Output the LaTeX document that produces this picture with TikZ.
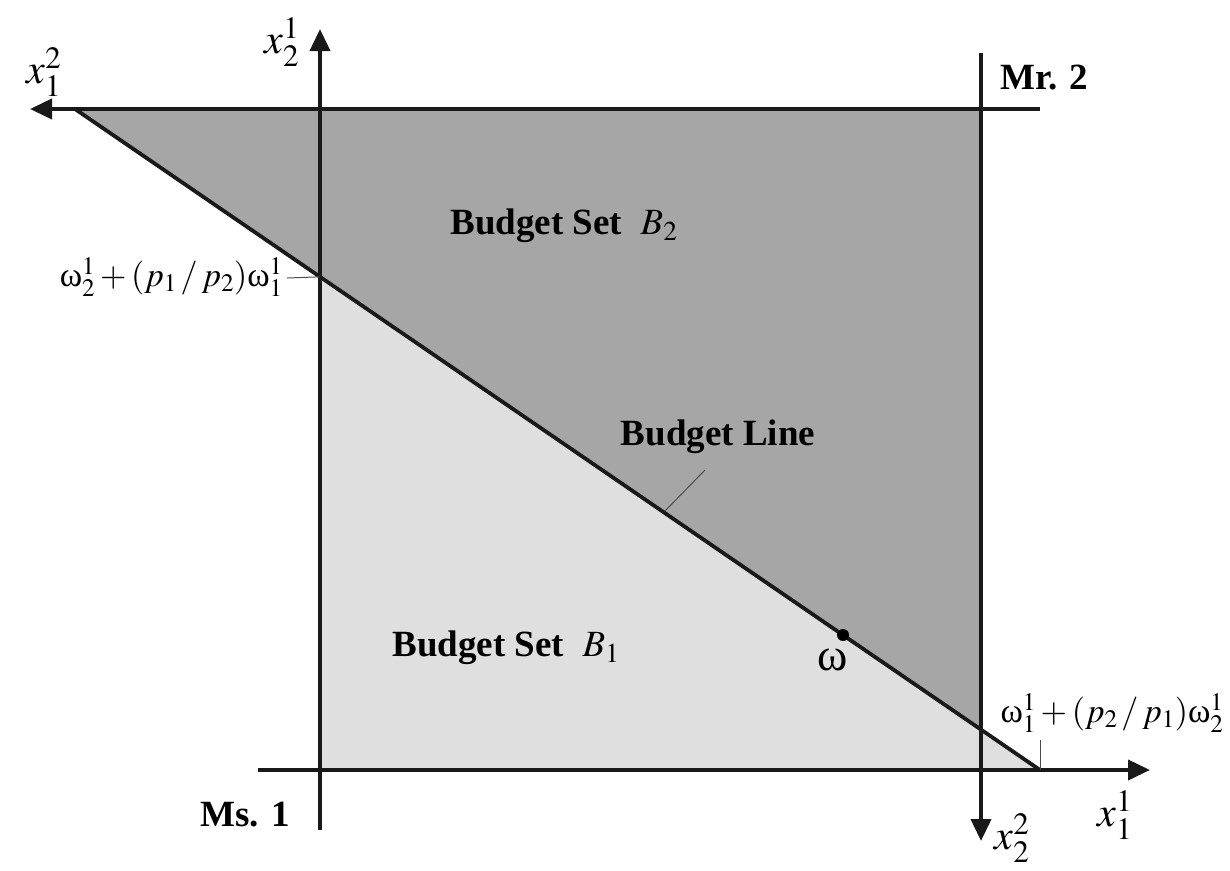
\documentclass[tikz,border=0pt]{standalone}
\usepackage{mathptmx}
\usepackage[no-math]{fontspec}
\setmainfont{Liberation Serif}
\usetikzlibrary{arrows.meta}
\begin{document}
\begin{tikzpicture}[x=1pt,y=-1pt,
  axis/.style={line width=3.8pt,color=black!90},
  axisarrow/.style={axis,-{Triangle[length=22pt,width=20pt]}},
  leader/.style={line width=1pt,color=black!70},
  lbl/.style={inner sep=0pt,font=\fontsize{42}{46}\selectfont},
  blbl/.style={inner sep=0pt,font=\fontsize{37}{40}\selectfont\bfseries},
  mlbl/.style={inner sep=0pt,font=\fontsize{34}{38}\selectfont}]
\useasboundingbox (0,0) rectangle (1230,870);
% key points
\coordinate (A) at (75,109);
\coordinate (C) at (1040,770);
\coordinate (T2) at (981,0);
\coordinate (B2) at (981,870);
\coordinate (T1) at (320,0);
\coordinate (B1) at (320,870);
\coordinate (D) at (intersection of A--C and T2--B2);
\coordinate (E) at (intersection of A--C and T1--B1);
\coordinate (O1) at (320,770);
\coordinate (O2) at (981,109);
% regions
\fill[color={rgb,255:red,166;green,166;blue,166}] (A) -- (O2) -- (D) -- cycle;
\fill[color={rgb,255:red,223;green,223;blue,223}] (E) -- (C) -- (O1) -- cycle;
% axes of Ms. 1
\coordinate (v1s) at (320,830);
\coordinate (v1e) at (320,29);
\coordinate (h1s) at (258,770);
\coordinate (h1e) at (1150,770);
\draw[axisarrow] (v1s) -- (v1e);
\draw[axisarrow] (h1s) -- (h1e);
% axes of Mr. 2
\coordinate (v2s) at (981,53);
\coordinate (v2e) at (981,841);
\coordinate (h2s) at (1040,109);
\coordinate (h2e) at (30,109);
\draw[axisarrow] (v2s) -- (v2e);
\draw[axisarrow] (h2s) -- (h2e);
% budget line
\draw[axis] (A) -- (C);
% endowment
\node[circle,fill=black,inner sep=0pt,minimum size=12pt] (w) at (843,635) {};
\node[inner sep=0pt,font=\fontsize{46}{50}\selectfont] (wl) at (833,660) {ω};
% axis labels
\node[lbl] (x12) at (44,72) {$x_1^2$};
\node[lbl] (x21) at (282,42) {$x_2^1$};
\node[lbl] (x11) at (1115,815) {$x_1^1$};
\node[lbl] (x22) at (1012,838) {$x_2^2$};
\node[blbl,anchor=west] (mr) at (1000,78) {Mr. 2};
\node[blbl] (ms) at (245,815) {Ms. 1};
% region labels
\node[blbl] (bs2) at (564,226) {Budget Set\ \ $B_2$};
\node[blbl] (bs1) at (506,648) {Budget Set\ \ $B_1$};
\node[blbl] (bl) at (718,437) {Budget Line};
\coordinate (blA) at (705,470);
\coordinate (blB) at (665,511);
\draw[leader] (blA) -- (blB);
% intercept labels
\node[mlbl,anchor=east] (il) at (283,277) {ω$_2^1+(p_1\,/\,p_2)$ω$_1^1$};
\coordinate (ilA) at (287,278);
\draw[leader] (ilA) -- (E);
\node[mlbl] (ir) at (1112,713) {ω$_1^1+(p_2\,/\,p_1)$ω$_2^1$};
\coordinate (irA) at (1040,740);
\draw[leader] (irA) -- (C);
\end{tikzpicture}
\end{document}
